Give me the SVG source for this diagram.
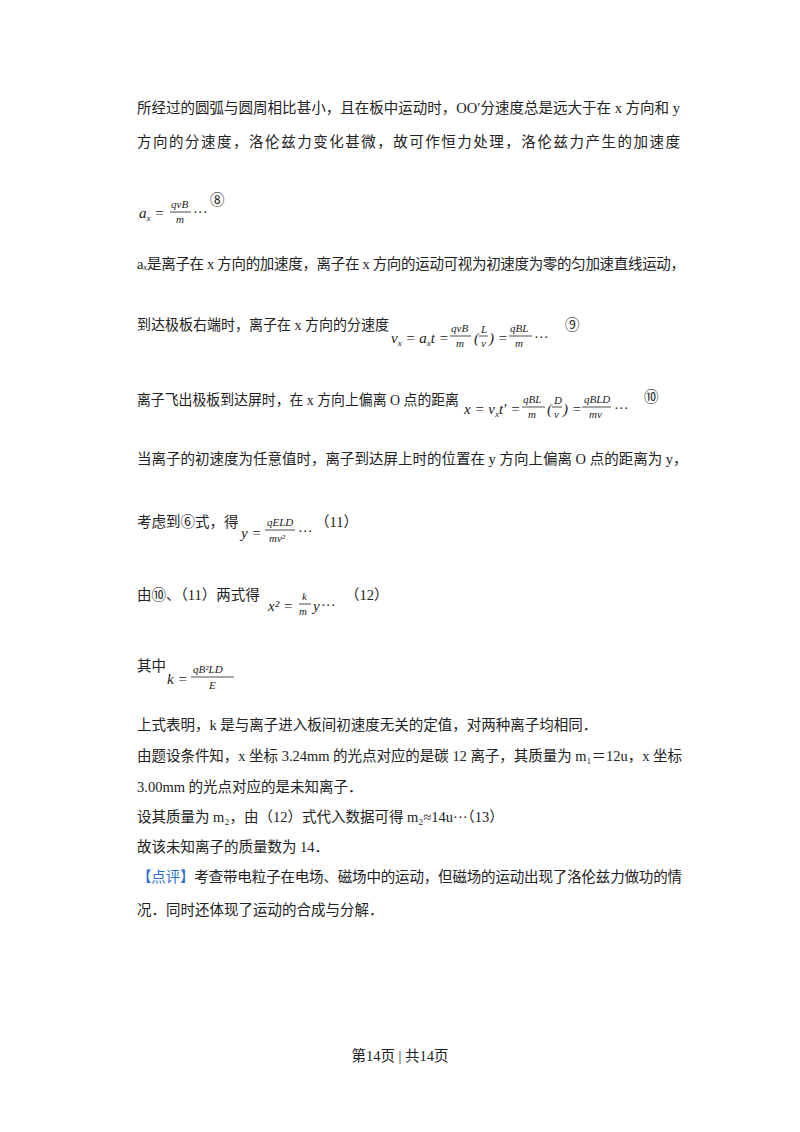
<svg xmlns="http://www.w3.org/2000/svg" width="800" height="1132" viewBox="0 0 800 1132">
<style>
text{font-family:"Liberation Serif","Noto Sans CJK SC",serif;font-size:14.5px;fill:#222}
.m{font-style:italic;font-family:"Liberation Serif",serif;font-size:15px}
.f{font-style:italic;font-family:"Liberation Serif",serif;font-size:11px}
.b{fill:#2a6fd6}
line{stroke:#222;stroke-width:0.8}
</style>
<rect width="800" height="1132" fill="#fff"/>
<text x="137" y="113" textLength="543" lengthAdjust="spacing">所经过的圆弧与圆周相比甚小，且在板中运动时，OO′分速度总是远大于在 x 方向和 y</text>
<text x="137" y="147" textLength="543" lengthAdjust="spacing">方向的分速度，洛伦兹力变化甚微，故可作恒力处理，洛伦兹力产生的加速度</text>
<g id="eq8">
<text class="m" x="139" y="218">a<tspan font-size="9" dy="3">x</tspan><tspan dy="-3"> =</tspan></text>
<text class="f" x="171" y="208">qvB</text><line x1="170" y1="212" x2="191" y2="212"/><text class="f" x="176" y="223">m</text>
<text x="193" y="217" font-size="11">···</text><text x="210" y="205">⑧</text>
</g>
<text x="137" y="269" textLength="548" lengthAdjust="spacing">aₓ是离子在 x 方向的加速度，离子在 x 方向的运动可视为初速度为零的匀加速直线运动，</text>
<text x="137" y="330" textLength="252" lengthAdjust="spacingAndGlyphs">到达极板右端时，离子在 x 方向的分速度</text>
<g id="eq9">
<text class="m" x="391" y="343">v<tspan font-size="9" dy="3">x</tspan><tspan dy="-3"> = a</tspan><tspan font-size="9" dy="3">x</tspan><tspan dy="-3">t =</tspan></text>
<text class="f" x="451" y="332">qvB</text><line x1="450" y1="336" x2="471" y2="336"/><text class="f" x="456" y="347">m</text>
<text class="m" x="474" y="343">(</text><text class="f" x="481" y="333">L</text><line x1="479" y1="336" x2="488" y2="336"/><text class="f" x="481" y="347">v</text><text class="m" x="489" y="343">) =</text>
<text class="f" x="510" y="332">qBL</text><line x1="509" y1="336" x2="532" y2="336"/><text class="f" x="515" y="347">m</text>
<text x="534" y="342" font-size="11">···</text><text x="565" y="330">⑨</text>
</g>
<text x="137" y="405" textLength="322" lengthAdjust="spacingAndGlyphs">离子飞出极板到达屏时，在 x 方向上偏离 O 点的距离</text>
<g id="eq10">
<text class="m" x="464" y="414">x = v<tspan font-size="9" dy="3">x</tspan><tspan dy="-3">t′ =</tspan></text>
<text class="f" x="523" y="403">qBL</text><line x1="522" y1="407" x2="545" y2="407"/><text class="f" x="528" y="418">m</text>
<text class="m" x="547" y="414">(</text><text class="f" x="554" y="404">D</text><line x1="552" y1="407" x2="562" y2="407"/><text class="f" x="554" y="418">v</text><text class="m" x="563" y="414">) =</text>
<text class="f" x="584" y="403">qBLD</text><line x1="582" y1="407" x2="611" y2="407"/><text class="f" x="589" y="418">mv</text>
<text x="614" y="413" font-size="11">···</text><text x="644" y="402">⑩</text>
</g>
<text x="137" y="464">当离子的初速度为任意值时，离子到达屏上时的位置在 y 方向上偏离 O 点的距离为 y，</text>
<text x="137" y="527">考虑到⑥式，得</text>
<g id="eq11">
<text class="m" x="241" y="538">y =</text>
<text class="f" x="267" y="526">qELD</text><line x1="265" y1="530" x2="295" y2="530"/><text class="f" x="269" y="542">mv²</text>
<text x="298" y="536" font-size="11">···</text><text x="315" y="527">（11）</text>
</g>
<text x="137" y="600">由⑩、（11）两式得</text>
<g id="eq12">
<text class="m" x="268" y="611">x² =</text>
<text class="f" x="302" y="600">k</text><line x1="299" y1="604" x2="311" y2="604"/><text class="f" x="299" y="615">m</text>
<text class="m" x="313" y="611">y</text><text x="321" y="610" font-size="11">···</text><text x="345" y="600">（12）</text>
</g>
<text x="137" y="671">其中</text>
<g id="eqk">
<text class="m" x="167" y="684">k =</text>
<text class="f" x="193" y="673">qB²LD</text><line x1="191" y1="677" x2="234" y2="677"/><text class="f" x="209" y="689">E</text>
</g>
<text x="137" y="730">上式表明，k 是与离子进入板间初速度无关的定值，对两种离子均相同．</text>
<text x="137" y="761" textLength="545" lengthAdjust="spacing">由题设条件知，x 坐标 3.24mm 的光点对应的是碳 12 离子，其质量为 m₁＝12u，x 坐标</text>
<text x="137" y="792">3.00mm 的光点对应的是未知离子．</text>
<text x="137" y="822">设其质量为 m₂，由（12）式代入数据可得 m₂≈14u···（13）</text>
<text x="137" y="852">故该未知离子的质量数为 14．</text>
<text x="137" y="882" textLength="545" lengthAdjust="spacing"><tspan class="b">【点评】</tspan>考查带电粒子在电场、磁场中的运动，但磁场的运动出现了洛伦兹力做功的情</text>
<text x="137" y="915">况．同时还体现了运动的合成与分解．</text>
<text x="400" y="1061" text-anchor="middle" font-size="13">第14页 | 共14页</text>
</svg>
